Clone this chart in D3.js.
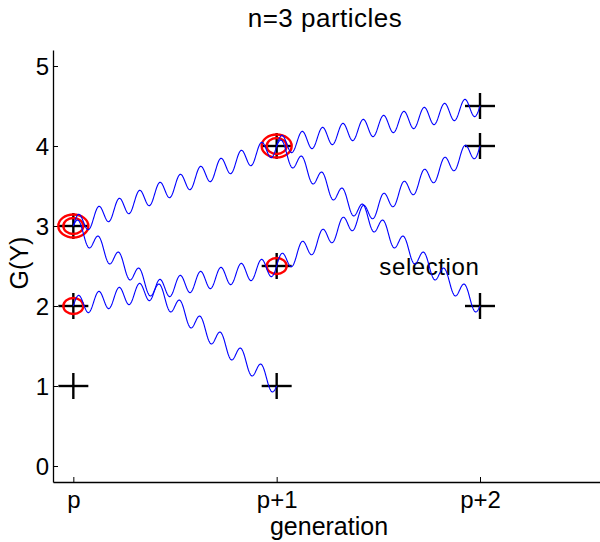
<!DOCTYPE html>
<html>
<head>
<meta charset="utf-8">
<script src="https://cdn.jsdelivr.net/npm/d3@7"></script>
<style>
  body { margin: 0; background: #fff; }
  text { font-family: "Liberation Sans", Arial, Helvetica, sans-serif; fill: #000; }
</style>
</head>
<body>
<div id="chart"></div>
<script>
// generations on the x axis
var genLabels = ["p", "p+1", "p+2"];

// particle values G(Y) per generation
var particlesP = [1, 2, 3];
var particlesP1 = [1, 2.5, 4];
var particlesP2 = [2, 4, 4.5];

// how many times each particle was selected (number of red rings)
var selectedP = [0, 1, 2];
var selectedP1 = [0, 1, 2];

// parent -> child links: generation index of parent, parent value, child value
var linkGen = [1, 1, 1, 2, 2, 2];
var linkFrom = [3, 3, 2, 4, 4, 2.5];
var linkTo = [4, 1, 2.5, 4.5, 2, 4];

var yTicks = [0, 1, 2, 3, 4, 5];

var width = 600, height = 542;
var margin = { top: 50, right: -2, bottom: 60, left: 53 };

var x = d3.scaleLinear().domain([0.9, 3.6]).range([margin.left, width - margin.right]);
var y = d3.scaleLinear().domain([-0.2, 5.2]).range([height - margin.bottom, margin.top]);

var svg = d3.select("#chart").append("svg")
    .attr("width", width)
    .attr("height", height);

// axes (matlab style, ticks pointing inward)
var xAxis = d3.axisBottom(x)
    .tickValues([1, 2, 3])
    .tickFormat(function(d) { return genLabels[d - 1]; })
    .tickSizeInner(-5)
    .tickSizeOuter(0);

var yAxis = d3.axisLeft(y)
    .tickValues(yTicks)
    .tickFormat(d3.format("d"))
    .tickSizeInner(-5)
    .tickSizeOuter(0)
    .tickPadding(4);

var gx = svg.append("g")
    .attr("transform", "translate(0," + y(-0.2) + ")")
    .call(xAxis);
gx.select(".domain").attr("stroke", "#000").attr("stroke-width", 1.3);
gx.selectAll(".tick line").attr("stroke", "#000");
gx.selectAll(".tick text")
    .style("font-size", "24px")
    .attr("y", 26)
    .attr("dy", 0);

var gy = svg.append("g")
    .attr("transform", "translate(" + x(0.9) + ",0)")
    .call(yAxis);
gy.select(".domain").attr("stroke", "#000").attr("stroke-width", 1.3);
gy.selectAll(".tick line").attr("stroke", "#000");
gy.selectAll(".tick text")
    .style("font-size", "24px")
    .attr("dy", "0.36em");

// titles
svg.append("text")
    .attr("x", 325)
    .attr("y", 27)
    .attr("text-anchor", "middle")
    .style("font-size", "26px")
    .style("letter-spacing", "0.5px")
    .text("n=3 particles");

svg.append("text")
    .attr("x", 329)
    .attr("y", 535)
    .attr("text-anchor", "middle")
    .style("font-size", "25px")
    .text("generation");

svg.append("text")
    .attr("transform", "translate(28," + 263 + ") rotate(-90)")
    .attr("text-anchor", "middle")
    .style("font-size", "25px")
    .text("G(Y)");

svg.append("text")
    .attr("x", x(2.5) + 1)
    .attr("y", y(2.5))
    .attr("dy", "0.38em")
    .style("font-size", "24px")
    .style("letter-spacing", "0.6px")
    .text("selection");

// particle points
var points = [];
[particlesP, particlesP1, particlesP2].forEach(function(vals, g) {
    vals.forEach(function(v) { points.push({ g: g + 1, v: v }); });
});

var rings = [];
[selectedP, selectedP1].forEach(function(counts, g) {
    var vals = g == 0 ? particlesP : particlesP1;
    counts.forEach(function(c, i) {
        for (var k = 0; k < c; k++) rings.push({ g: g + 1, v: vals[i], k: k });
    });
});

// crosses
var cross = svg.append("g").selectAll("g")
    .data(points)
    .enter().append("g")
    .attr("transform", function(d) { return "translate(" + x(d.g) + "," + y(d.v) + ")"; });
cross.append("line").attr("x1", -15).attr("x2", 15).attr("y1", 0).attr("y2", 0);
cross.append("line").attr("x1", 0).attr("x2", 0).attr("y1", -13).attr("y2", 13);
cross.selectAll("line").attr("stroke", "#000").attr("stroke-width", 2.4);

// red selection rings
svg.append("g").selectAll("ellipse")
    .data(rings)
    .enter().append("ellipse")
    .attr("cx", function(d) { return x(d.g); })
    .attr("cy", function(d) { return y(d.v); })
    .attr("rx", function(d) { return 10 + 5 * d.k; })
    .attr("ry", function(d) { return 8 + 3.5 * d.k; })
    .attr("fill", "none")
    .attr("stroke", "#ff0000")
    .attr("stroke-width", 2.4);

// wavy links between parent and child
var links = linkGen.map(function(g, i) {
    return { g: g, from: linkFrom[i], to: linkTo[i] };
});

var wave = d3.line()
    .x(function(p) { return x(p[0]); })
    .y(function(p) { return y(p[1]); });

function wavePoints(d) {
    var pts = [];
    var n = 400;
    for (var i = 0; i <= n; i++) {
        var t = i / n;
        pts.push([d.g + t, d.from + (d.to - d.from) * t + 0.12 * Math.sin(2 * Math.PI * 10 * t)]);
    }
    return pts;
}

svg.append("g").selectAll("path")
    .data(links)
    .enter().append("path")
    .attr("d", function(d) { return wave(wavePoints(d)); })
    .attr("fill", "none")
    .attr("stroke", "#0000ff")
    .attr("stroke-width", 1.1);
</script>
</body>
</html>
